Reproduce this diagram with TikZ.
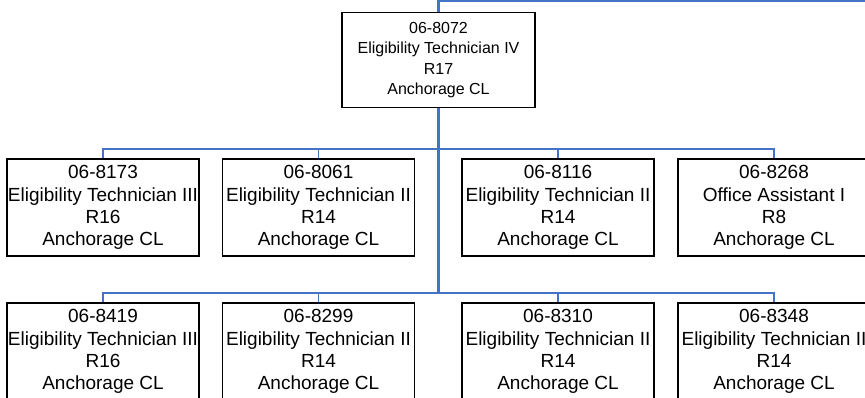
\documentclass[tikz,border=0pt]{standalone}
\usepackage{fontspec}
\setmainfont{Liberation Sans}
\definecolor{linkblue}{RGB}{68,114,196}

\begin{document}
\begin{tikzpicture}[x=1pt,y=-1pt,
    post/.style={draw=black,line width=1.2pt,fill=white,inner sep=0pt,
      minimum width=192pt,minimum height=97pt,align=center,
      font=\fontsize{19}{22.2}\selectfont},
    headpost/.style={post,minimum width=193pt,minimum height=95pt,
      font=\fontsize{16}{20.5}\selectfont},
    trunk/.style={draw=linkblue,line width=2.2pt},
    branch/.style={draw=linkblue,line width=1.3pt}]
      \useasboundingbox (0,0) rectangle (865,397);
      \clip (0,0) rectangle (865,397);
      \coordinate (exit) at (875,1);
      \coordinate (bus2) at (438.5,149);
      \coordinate (bus3) at (438.5,293);
      \node[headpost] (8072) at (438.5,60) {06-8072\\Eligibility Technician IV\\R17\\Anchorage CL};
      \node[post] (8173) at (103,207.5) {06-8173\\Eligibility Technician III\\R16\\Anchorage CL};
      \node[post] (8061) at (318.5,207.5) {06-8061\\Eligibility Technician II\\R14\\Anchorage CL};
      \node[post] (8116) at (558,207.5) {06-8116\\Eligibility Technician II\\R14\\Anchorage CL};
      \node[post] (8268) at (774,207.5) {06-8268\\Office Assistant I\\R8\\Anchorage CL};
      \node[post] (8419) at (103,351.5) {06-8419\\Eligibility Technician III\\R16\\Anchorage CL};
      \node[post] (8299) at (318.5,351.5) {06-8299\\Eligibility Technician II\\R14\\Anchorage CL};
      \node[post] (8310) at (558,351.5) {06-8310\\Eligibility Technician II\\R14\\Anchorage CL};
      \node[post] (8348) at (774,351.5) {06-8348\\Eligibility Technician II\\R14\\Anchorage CL};
      \draw [trunk]  (8072.north) |- (exit);
      \draw [trunk]  (8072.south) -- (bus3);
      \draw [branch] (8173.north) |- (bus2) -| (8268.north);
      \draw [branch] (8061.north) |- (bus2);
      \draw [branch] (8116.north) |- (bus2);
      \draw [branch] (8419.north) |- (bus3) -| (8348.north);
      \draw [branch] (8299.north) |- (bus3);
      \draw [branch] (8310.north) |- (bus3);
    \end{tikzpicture}
\end{document}
